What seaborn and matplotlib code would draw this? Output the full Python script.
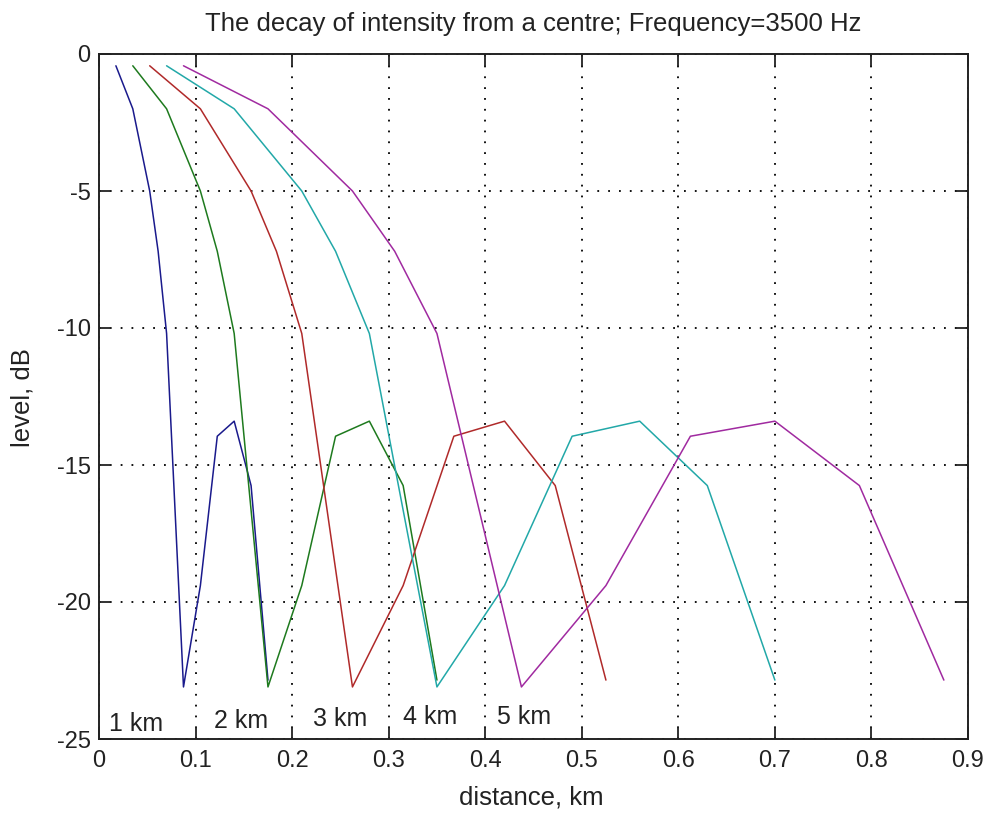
import matplotlib
matplotlib.use("Agg")
import matplotlib.pyplot as plt
import seaborn as sns
import pandas as pd

# ---- data ----
ranges_km = ["1 km", "2 km", "3 km", "4 km", "5 km"]

dist_1km = [0.0175, 0.035, 0.04375, 0.0525, 0.06125, 0.07, 0.0875, 0.105, 0.1225, 0.14, 0.1575, 0.175]
dist_2km = [0.035, 0.07, 0.0875, 0.105, 0.1225, 0.14, 0.175, 0.21, 0.245, 0.28, 0.315, 0.35]
dist_3km = [0.0525, 0.105, 0.13125, 0.1575, 0.18375, 0.21, 0.2625, 0.315, 0.3675, 0.42, 0.4725, 0.525]
dist_4km = [0.07, 0.14, 0.175, 0.21, 0.245, 0.28, 0.35, 0.42, 0.49, 0.56, 0.63, 0.70]
dist_5km = [0.0875, 0.175, 0.21875, 0.2625, 0.30625, 0.35, 0.4375, 0.525, 0.6125, 0.70, 0.7875, 0.875]

level_db = [-0.43, -2.0, -3.5, -5.0, -7.2, -10.2, -23.1, -19.4, -13.95, -13.4, -15.75, -22.85]

label_x = [0.01, 0.119, 0.222, 0.315, 0.412]
label_y = [-24.45, -24.33, -24.27, -24.2, -24.2]

x_ticks = [0, 0.1, 0.2, 0.3, 0.4, 0.5, 0.6, 0.7, 0.8, 0.9]
x_ticklabels = ["0", "0.1", "0.2", "0.3", "0.4", "0.5", "0.6", "0.7", "0.8", "0.9"]
y_ticks = [-25, -20, -15, -10, -5, 0]
y_ticklabels = ["-25", "-20", "-15", "-10", "-5", "0"]

colors = ["#1a1a8c", "#1e7a1e", "#b02a2a", "#22a8a8", "#a02aa0"]

# ---- build table ----
frames = []
for name, xs in zip(ranges_km, [dist_1km, dist_2km, dist_3km, dist_4km, dist_5km]):
    frames.append(pd.DataFrame({"distance": xs, "level": level_db, "range": name}))
df = pd.concat(frames, ignore_index=True)

sns.set_theme(style="white")
plt.rcParams["font.family"] = ["Liberation Sans", "DejaVu Sans"]

fig = plt.figure(figsize=(9.92, 8.14), dpi=100)
ax = fig.add_axes([99 / 992, 1 - 739 / 814, (968 - 99) / 992, (739 - 54) / 814])

sns.lineplot(data=df, x="distance", y="level", hue="range", palette=colors,
             estimator=None, sort=False, legend=False, linewidth=1.1, ax=ax)

tick_fs = 17
text_fs = 18
label_fs = 18.5
ink = "#222222"

for txt, lx, ly in zip(ranges_km, label_x, label_y):
    ax.text(lx, ly, txt, ha="left", va="center", fontsize=text_fs, color=ink)

ax.set_xlim(0, 0.9)
ax.set_ylim(-25, 0)
ax.set_xticks(x_ticks)
ax.set_xticklabels(x_ticklabels)
ax.set_yticks(y_ticks)
ax.set_yticklabels(y_ticklabels)

ax.grid(True, color="black", linestyle=(0, (1, 5)), linewidth=1.3)
ax.set_axisbelow(True)

for sp in ax.spines.values():
    sp.set_visible(True)
    sp.set_color(ink)
    sp.set_linewidth(1.4)

ax.tick_params(axis="both", which="both", direction="in", length=8.5, width=1.3,
               color=ink, labelsize=tick_fs, labelcolor=ink,
               top=True, right=True, bottom=True, left=True)
ax.tick_params(axis="x", pad=8)
ax.tick_params(axis="y", pad=6)

ax.set_title("The decay of intensity from a centre; Frequency=3500 Hz",
             fontsize=label_fs, color=ink, y=1.0438, va="center", pad=0)
ax.set_xlabel("distance, km", fontsize=label_fs, color=ink, va="center")
ax.set_ylabel("level, dB", fontsize=label_fs, color=ink, va="center")
ax.xaxis.set_label_coords(0.497, -0.0861)
ax.yaxis.set_label_coords(-0.0875, 0.499)

fig.savefig("out.png", dpi=100)
